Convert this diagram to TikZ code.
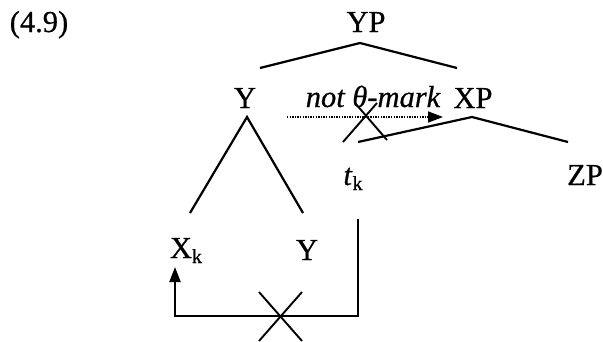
\documentclass[tikz,border=0pt]{standalone}
\usepackage{fontspec}
\setmainfont[FakeBold=0.6]{Liberation Serif}
\usetikzlibrary{arrows.meta}
\tikzset{
  lbl/.style={anchor=base, inner sep=0pt, font=\fontsize{30.5}{33}\selectfont},
  branch/.style={line width=2.2pt},
  crossline/.style={line width=1.9pt},
  dotarrow/.style={line width=1.7pt, dash pattern=on 1.3pt off 1.3pt, -{Triangle[length=15pt,width=11pt]}},
  movearrow/.style={line width=2.2pt, -{Triangle[length=15pt,width=11pt]}},
}
\newcommand{\subk}{\raisebox{-5pt}{\fontsize{20}{21}\selectfont k}}
\begin{document}
\begin{tikzpicture}[x=1pt,y=-1pt]
\useasboundingbox (0,0) rectangle (603,341);
% labels
\node[lbl] (ex) at (39,32) {(4.9)};
\node[lbl] (yp) at (366,32) {YP};
\node[lbl] (y1) at (245,108) {Y};
\node[lbl, font=\fontsize{30.5}{33}\selectfont\itshape] (nt) at (373,107) {not θ-mark};
\node[lbl] (xp) at (473,108) {XP};
\node[lbl] (tk) at (353,185) {\textit{t}\subk};
\node[lbl] (zp) at (585,185) {ZP};
\node[lbl] (xk) at (186,258) {X\subk};
\node[lbl] (y2) at (307,260) {Y};
% tree coordinates
\coordinate (ypapex) at (360,43);
\coordinate (ypl) at (260,68);
\coordinate (ypr) at (457,68);
\coordinate (y1apex) at (247,117);
\coordinate (y1l) at (190,213);
\coordinate (y1r) at (303,213);
\coordinate (xpapex) at (472,117);
\coordinate (xpl) at (358,142);
\coordinate (xpr) at (568,142);
% branches
\draw[branch] (ypl) -- (ypapex) -- (ypr);
\draw[branch] (y1l) -- (y1apex) -- (y1r);
\draw[branch] (xpl) -- (xpapex) -- (xpr);
% dotted arrow (not theta-mark)
\coordinate (ds) at (287,117);
\coordinate (de) at (443,117);
\draw[dotarrow] (ds) -- (de);
% upper cross
\coordinate (ca1) at (343,142);
\coordinate (ca2) at (377,103);
\coordinate (cb1) at (355,103);
\coordinate (cb2) at (387,140);
\draw[crossline] (ca1) -- (ca2);
\draw[crossline] (cb1) -- (cb2);
% movement path
\coordinate (ms) at (358,219);
\coordinate (mc1) at (358,316);
\coordinate (mc2) at (175,316);
\coordinate (me) at (175,267);
\draw[movearrow] (ms) -- (mc1) -- (mc2) -- (me);
% lower cross
\coordinate (la1) at (259,292);
\coordinate (la2) at (302,341);
\coordinate (lb1) at (302,292);
\coordinate (lb2) at (259,341);
\draw[crossline] (la1) -- (la2);
\draw[crossline] (lb1) -- (lb2);
\end{tikzpicture}
\end{document}
